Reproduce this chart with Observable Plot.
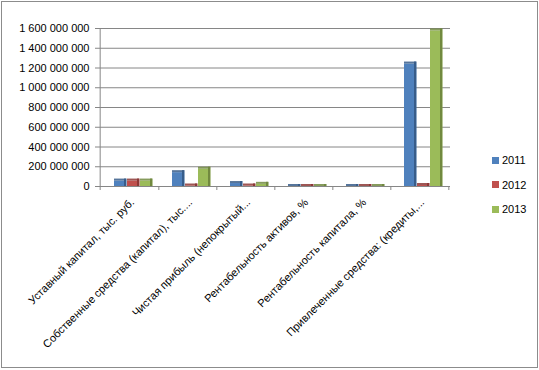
<!DOCTYPE html>
<html>
<head>
<meta charset="utf-8">
<script src="https://cdn.jsdelivr.net/npm/d3@7"></script>
<script src="https://cdn.jsdelivr.net/npm/@observablehq/plot@0.6"></script>
<style>
  html, body { margin: 0; padding: 0; background: #fff; }
  #wrap { position: relative; width: 539px; height: 370px; overflow: hidden; }
  #frame { position: absolute; left: 1px; top: 1px; width: 535px; height: 365px; border: 1px solid #8c8c8c; pointer-events: none; }
  #legend { position: absolute; left: 492px; top: 148px; font: 11px "Liberation Sans", Arial, sans-serif; color: #000; }
  #legend div { height: 24.5px; display: flex; align-items: center; }
  #legend span.sw { display: inline-block; width: 7px; height: 7px; margin-right: 3px; }
</style>
</head>
<body>
<div id="wrap">
  <div id="chart"></div>
  <div id="legend"></div>
  <div id="frame"></div>
</div>
<script>
const categories = [
  "Уставный капитал, тыс. руб.",
  "Собственные средства (капитал), тыс....",
  "Чистая прибыль (непокрытый...",
  "Рентабельность активов, %",
  "Рентабельность капитала, %",
  "Привлеченные средства: (кредиты,..."
];
const years = ["2011", "2012", "2013"];
const values2011 = [55000000, 140000000, 30000000, 0, 0, 1240000000];
const values2012 = [55000000, 5000000, 5000000, 0, 0, 10000000];
const values2013 = [55000000, 175000000, 22000000, 0, 0, 1575000000];
const colors = ["#4f81bd", "#c0504d", "#9bbb59"];
const sideColors = ["#385d8a", "#8c3836", "#71893f"];
const yTicks = [0, 200000000, 400000000, 600000000, 800000000, 1000000000, 1200000000, 1400000000, 1600000000];

const series = [values2011, values2012, values2013];
const fmt = v => d3.format(",")(v).replace(/,/g, "\u00a0");

const W = 539, ML = 98, MR = 89;
const step = (W - ML - MR) / categories.length;
const barW = 13, groupStart = 14;

const barMarks = [];
years.forEach((yr, j) => {
  const rows = categories.map((c, i) => ({category: c, year: yr, value: series[j][i]}));
  const left = groupStart + barW * j;
  const right = step - left - barW;
  barMarks.push(Plot.barY(rows, {x: "category", y: "value", fill: colors[j], insetLeft: left, insetRight: right}));
  barMarks.push(Plot.barY(rows, {x: "category", y1: 0, y2: "value", fill: sideColors[j], insetLeft: left + barW - 3, insetRight: right, insetTop: -2}));
  barMarks.push(Plot.barY(rows, {x: "category", y1: "value", y2: "value", fill: sideColors[j], fillOpacity: 0.85, insetLeft: left, insetRight: right, insetTop: -2}));
});

const chart = Plot.plot({
  width: W,
  height: 370,
  marginLeft: ML,
  marginRight: MR,
  marginTop: 28,
  marginBottom: 184,
  style: {fontFamily: "'Liberation Sans', Arial, sans-serif", fontSize: "11px", color: "#000", background: "transparent"},
  x: {domain: categories, padding: 0, label: null},
  y: {domain: [0, 1600000000], label: null},
  marks: [
    Plot.ruleY(yTicks, {stroke: "#868686", strokeWidth: 1}),
    Plot.axisY({ticks: yTicks, tickFormat: fmt, tickSize: 3, tickPadding: 6, stroke: "#868686", fontSize: 11, label: null}),
    Plot.ruleX([categories[0]], {dx: -step / 2, stroke: "#868686"}),
    Plot.ruleX([categories[0]], {dx: -step / 2, y1: 0, y2: 0, insetBottom: -4, stroke: "#868686"}),
    Plot.ruleX(categories, {dx: step / 2, y1: 0, y2: 0, insetBottom: -4, stroke: "#868686"}),
    Plot.axisX({anchor: "bottom", tickSize: 0, tickRotate: -45, tickPadding: 14, fontSize: 11, label: null, dx: 3}),
    ...barMarks
  ]
});
document.getElementById("chart").appendChild(chart);

const legend = document.getElementById("legend");
years.forEach((y, j) => {
  const row = document.createElement("div");
  row.innerHTML = `<span class="sw" style="background:${colors[j]}"></span>${y}`;
  legend.appendChild(row);
});
</script>
</body>
</html>
